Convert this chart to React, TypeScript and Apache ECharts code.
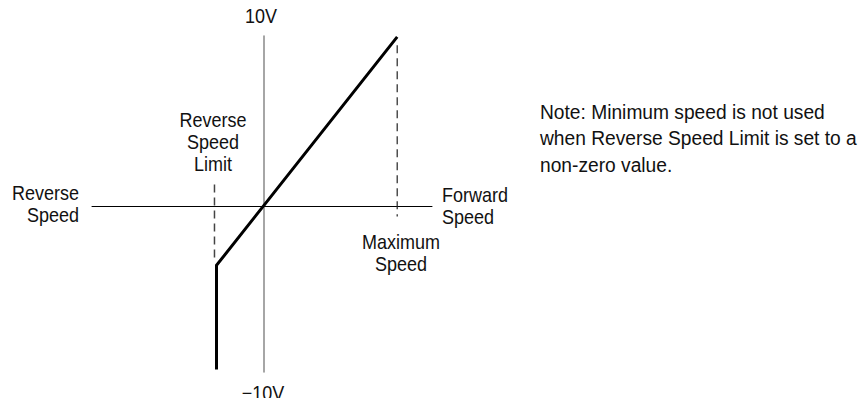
import React, { useEffect, useRef } from "react";
import * as echarts from "echarts";

// Speed in % of maximum speed, reference voltage in volts
const SPEED_MIN = -128;
const SPEED_MAX = 126;
const VOLT_MIN = -9.8;
const VOLT_MAX = 10.05;

// Speed-reference curve: max speed at +10V, clamped at the reverse speed limit
const curve: [number, number][] = [
  [100, 10],
  [0, 0],
  [-35, -3.5],
  [-35, -9.65],
];

// Dashed guide lines
const maxSpeedGuide: [number, number][] = [
  [100, 9.5],
  [100, -0.62],
];
const reverseLimitGuide: [number, number][] = [
  [-36.5, 1.27],
  [-36.5, -3.16],
];

const FONT = "'Liberation Sans', Arial, Helvetica, sans-serif";
const FS = 20;

const labels = [
  { text: "10V", x: 261, y: 16, align: "center", sx: 0.9, lh: 22 },
  { text: "\u221210V", x: 263, y: 393, align: "center", sx: 0.9, lh: 22 },
  { text: "Reverse\nSpeed\nLimit", x: 213, y: 142, align: "center", sx: 0.9, lh: 22 },
  { text: "Reverse\nSpeed", x: 79, y: 204, align: "right", sx: 0.9, lh: 22 },
  { text: "Forward\nSpeed", x: 442, y: 206, align: "left", sx: 0.9, lh: 22 },
  { text: "Maximum\nSpeed", x: 401, y: 253, align: "center", sx: 0.9, lh: 22 },
  {
    text: "Note: Minimum speed is not used\nwhen Reverse Speed Limit is set to a\nnon-zero value.",
    x: 540,
    y: 138,
    align: "left",
    sx: 0.96,
    lh: 26.5,
  },
];

export default function App() {
  const ref = useRef<HTMLDivElement>(null);

  useEffect(() => {
    if (!ref.current) return;
    const chart = echarts.init(ref.current, null, { renderer: "svg" });
    chart.setOption({
      animation: false,
      backgroundColor: "#ffffff",
      grid: { left: 92, right: 435, top: 36, bottom: 34 },
      xAxis: {
        type: "value",
        min: SPEED_MIN,
        max: SPEED_MAX,
        axisLine: { show: true, onZero: true, lineStyle: { color: "#000", width: 1 } },
        axisTick: { show: false },
        axisLabel: { show: false },
        splitLine: { show: false },
      },
      yAxis: {
        type: "value",
        min: VOLT_MIN,
        max: VOLT_MAX,
        axisLine: { show: true, onZero: true, lineStyle: { color: "#888", width: 1.5 } },
        axisTick: { show: false },
        axisLabel: { show: false },
        splitLine: { show: false },
      },
      series: [
        {
          type: "line",
          data: maxSpeedGuide,
          symbol: "none",
          lineStyle: { color: "#222", width: 1.2, type: [8, 5] },
          silent: true,
        },
        {
          type: "line",
          data: reverseLimitGuide,
          symbol: "none",
          lineStyle: { color: "#444", width: 1.5, type: [8, 5] },
          silent: true,
        },
        {
          type: "line",
          data: curve,
          symbol: "none",
          lineStyle: { color: "#000", width: 3, join: "miter" },
          z: 5,
          silent: true,
        },
      ],
      graphic: labels.map((l) => ({
        type: "text",
        x: l.x,
        y: l.y,
        scaleX: l.sx,
        style: {
          text: l.text,
          fill: "#111",
          font: `${FS}px ${FONT}`,
          fontFamily: FONT,
          fontSize: FS,
          lineHeight: l.lh,
          align: l.align,
          verticalAlign: "middle",
        },
      })),
    });
    return () => chart.dispose();
  }, []);

  return <div ref={ref} style={{ width: 867, height: 406, margin: -8 }} />;
}
